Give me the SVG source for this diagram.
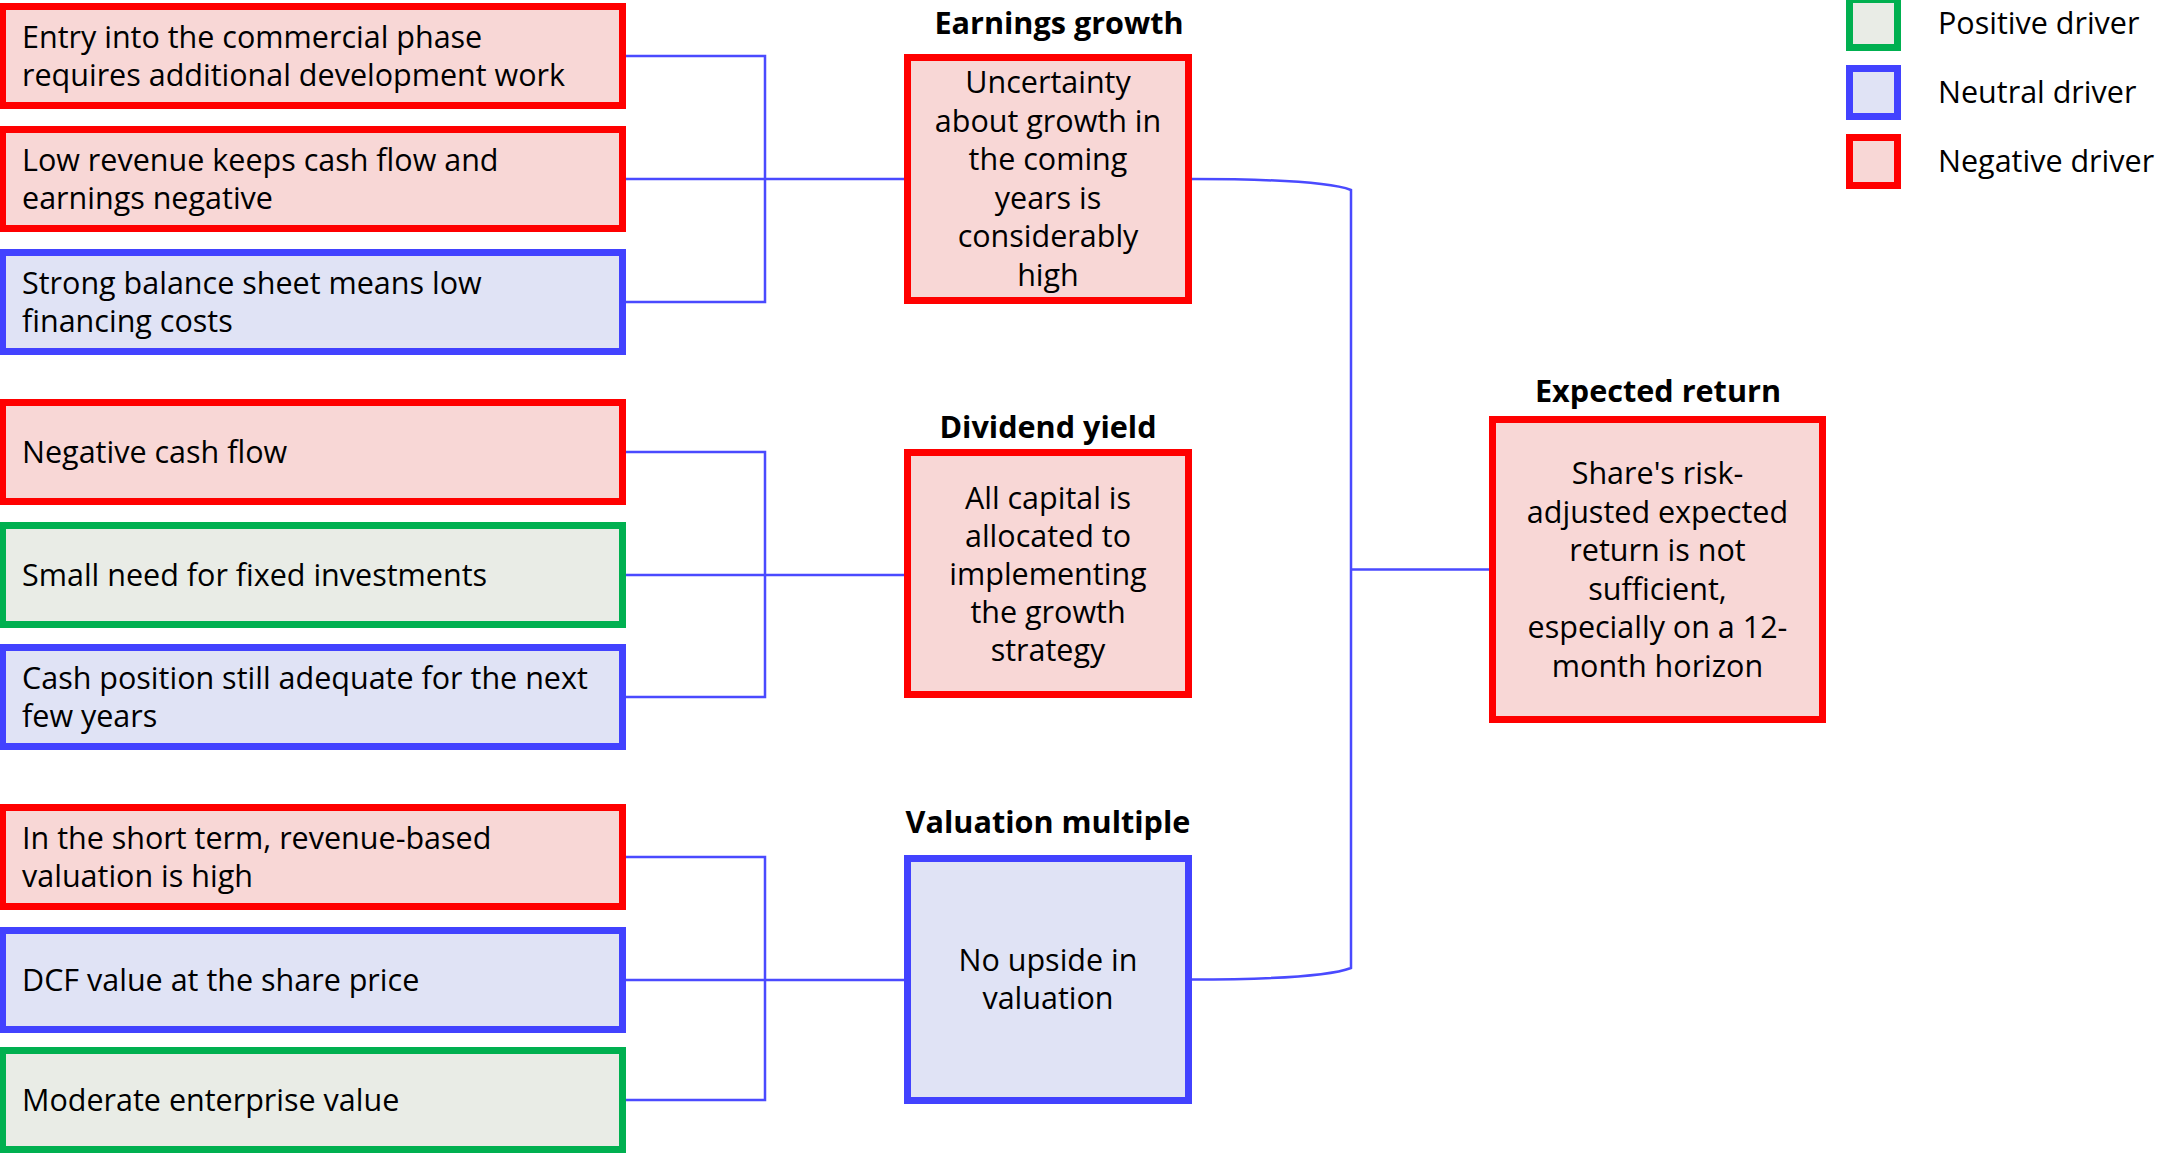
<svg xmlns="http://www.w3.org/2000/svg" width="2162" height="1153" viewBox="0 0 2162 1153">
<style>
text{font-family:"Open Sans","Liberation Sans",sans-serif;fill:#000}
.t{font-size:30.5px}
.c{text-anchor:middle}
.h{font-size:30.6px;font-weight:700;text-anchor:middle}
.neg{fill:#f8d7d6;stroke:#ff0000;stroke-width:7}
.neu{fill:#e0e3f5;stroke:#4242ff;stroke-width:7}
.pos{fill:#e9ece6;stroke:#00b050;stroke-width:7}
.con{fill:none;stroke:#4a4aff;stroke-width:2.5}
</style>
<rect width="2162" height="1153" fill="#fff"/>
<g id="connectors">
<path class="con" d="M626,56 H765 V302 H626 M626,179 H904"/>
<path class="con" d="M626,452 H765 V697 H626 M626,575 H904"/>
<path class="con" d="M626,857 H765 V1100 H626 M626,980 H904"/>
<path class="con" d="M1190,179 C1265,179 1330,182 1351,190 V968 C1330,976 1265,979.5 1190,979.5"/>
<path class="con" d="M1351,569.5 H1489"/>
</g>
<g id="n1"><rect class="neg" x="2.5" y="6.5" width="620" height="99"/><text class="t" x="22" y="48">Entry into the commercial phase</text><text class="t" x="22" y="86">requires additional development work</text></g>
<g id="n2"><rect class="neg" x="2.5" y="129.5" width="620" height="99"/><text class="t" x="22" y="171">Low revenue keeps cash flow and</text><text class="t" x="22" y="209">earnings negative</text></g>
<g id="n3"><rect class="neu" x="2.5" y="252.5" width="620" height="99"/><text class="t" x="22" y="294">Strong balance sheet means low</text><text class="t" x="22" y="332">financing costs</text></g>
<g id="n4"><rect class="neg" x="2.5" y="402.5" width="620" height="99"/><text class="t" x="22" y="463">Negative cash flow</text></g>
<g id="n5"><rect class="pos" x="2.5" y="525.5" width="620" height="99"/><text class="t" x="22" y="586">Small need for fixed investments</text></g>
<g id="n6"><rect class="neu" x="2.5" y="647.5" width="620" height="99"/><text class="t" x="22" y="689">Cash position still adequate for the next</text><text class="t" x="22" y="727">few years</text></g>
<g id="n7"><rect class="neg" x="2.5" y="807.5" width="620" height="99"/><text class="t" x="22" y="849">In the short term, revenue-based</text><text class="t" x="22" y="887">valuation is high</text></g>
<g id="n8"><rect class="neu" x="2.5" y="930.5" width="620" height="99"/><text class="t" x="22" y="991">DCF value at the share price</text></g>
<g id="n9"><rect class="pos" x="2.5" y="1050.5" width="620" height="99"/><text class="t" x="22" y="1111">Moderate enterprise value</text></g>
<g id="earnings">
<text class="h" x="1059" y="34">Earnings growth</text>
<rect class="neg" x="907.5" y="57.5" width="281" height="243"/>
<text class="t c" x="1048" y="93">Uncertainty</text>
<text class="t c" x="1048" y="131.5">about growth in</text>
<text class="t c" x="1048" y="170">the coming</text>
<text class="t c" x="1048" y="208.5">years is</text>
<text class="t c" x="1048" y="247">considerably</text>
<text class="t c" x="1048" y="285.5">high</text>
</g>
<g id="dividend">
<text class="h" x="1048" y="438">Dividend yield</text>
<rect class="neg" x="907.5" y="452.5" width="281" height="242"/>
<text class="t c" x="1048" y="509">All capital is</text>
<text class="t c" x="1048" y="547">allocated to</text>
<text class="t c" x="1048" y="585">implementing</text>
<text class="t c" x="1048" y="623">the growth</text>
<text class="t c" x="1048" y="661">strategy</text>
</g>
<g id="valuation">
<text class="h" x="1048" y="833">Valuation multiple</text>
<rect class="neu" x="907.5" y="858.5" width="281" height="242"/>
<text class="t c" x="1048" y="971">No upside in</text>
<text class="t c" x="1048" y="1009">valuation</text>
</g>
<g id="expected">
<text class="h" x="1658" y="402">Expected return</text>
<rect class="neg" x="1492.5" y="419.5" width="330" height="300"/>
<text class="t c" x="1657.5" y="484">Share's risk-</text>
<text class="t c" x="1657.5" y="522.5">adjusted expected</text>
<text class="t c" x="1657.5" y="561">return is not</text>
<text class="t c" x="1657.5" y="599.5">sufficient,</text>
<text class="t c" x="1657.5" y="638">especially on a 12-</text>
<text class="t c" x="1657.5" y="676.5">month horizon</text>
</g>
<g id="legend">
<rect class="pos" x="1849.5" y="-0.5" width="48" height="48"/>
<rect class="neu" x="1849.5" y="68.5" width="48" height="48"/>
<rect class="neg" x="1849.5" y="137.5" width="48" height="48"/>
<text class="t" x="1938" y="34">Positive driver</text>
<text class="t" x="1938" y="103">Neutral driver</text>
<text class="t" x="1938" y="172">Negative driver</text>
</g>
</svg>
